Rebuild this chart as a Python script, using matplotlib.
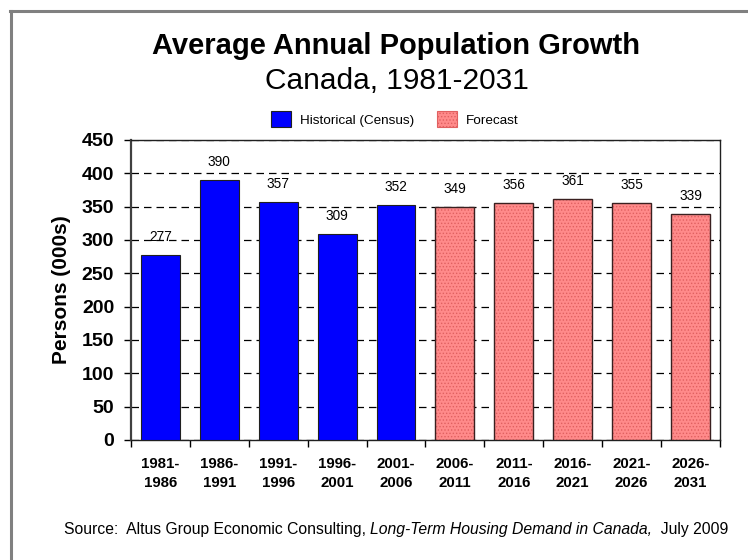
import numpy as np
import matplotlib.pyplot as plt
from matplotlib.lines import Line2D
from matplotlib.patches import Patch

plt.rcParams['font.family'] = ['Liberation Sans', 'DejaVu Sans']
plt.rcParams['hatch.linewidth'] = 0.6

periods = ['1981-\n1986', '1986-\n1991', '1991-\n1996', '1996-\n2001', '2001-\n2006',
           '2006-\n2011', '2011-\n2016', '2016-\n2021', '2021-\n2026', '2026-\n2031']
historical = [277, 390, 357, 309, 352]
forecast = [349, 356, 361, 355, 339]

fig = plt.figure(figsize=(7.48, 5.6), dpi=100)
ax = fig.add_axes([0.175, 0.2143, 0.7876, 0.5357])

n_hist = len(historical)
x_hist = np.arange(n_hist)
x_fore = np.arange(n_hist, n_hist + len(forecast))
w = 0.66

ax.bar(x_hist, historical, width=w, color='#0000ff', edgecolor='#202020',
       linewidth=0.8, zorder=3)
# forecast bars: dotted pink fill, then a dark outline on top
ax.bar(x_fore, forecast, width=w, color='#ff8a8a', edgecolor='#e06060',
       hatch='.....', linewidth=0, zorder=3)
ax.bar(x_fore, forecast, width=w, fill=False, edgecolor='#3a2020',
       linewidth=1.0, zorder=4)

for xi, v in zip(np.concatenate([x_hist, x_fore]), historical + forecast):
    ax.annotate(str(v), (xi, v), xytext=(0, 13), textcoords='offset points',
                ha='center', va='center', fontsize=9.8, zorder=5)

ax.set_xlim(-0.5, len(periods) - 0.5)
ax.set_ylim(0, 450)
ax.set_yticks(np.arange(0, 451, 50))
ax.tick_params(axis='y', labelsize=14, length=5, width=1, direction='out', pad=7)
for lbl in ax.get_yticklabels():
    lbl.set_fontweight('bold')

ax.set_xticks(np.arange(-0.5, len(periods), 1.0))
ax.set_xticklabels([])
ax.tick_params(axis='x', length=5, width=1, direction='out')
for i, p in enumerate(periods):
    ax.text(i, -25, p, ha='center', va='top', fontsize=10.8, fontweight='bold',
            linespacing=1.45, transform=ax.transData)

ax.yaxis.grid(True, color='black', linestyle=(0, (6, 4)), linewidth=0.9, zorder=0)
ax.set_axisbelow(True)
for s in ['top', 'right', 'bottom']:
    ax.spines[s].set_color('#202020')
    ax.spines[s].set_linewidth(1.0)
ax.spines['left'].set_color('#404040')
ax.spines['left'].set_linewidth(1.6)

ax.set_ylabel('Persons (000s)', fontsize=15, fontweight='bold', labelpad=8)

cx = 0.53
fig.text(cx, 0.918, 'Average Annual Population Growth', ha='center', va='center',
         fontsize=21, fontweight='bold')
fig.text(cx, 0.855, 'Canada, 1981-2031', ha='center', va='center', fontsize=21.5)

handles = [Patch(facecolor='#0000ff', edgecolor='#202020', linewidth=0.8),
           Patch(facecolor='#ff8a8a', edgecolor='#e06060', hatch='.....', linewidth=0.8)]
fig.legend(handles, ['Historical (Census)', 'Forecast'], loc='center',
           bbox_to_anchor=(0.528, 0.787), ncol=2, frameon=False, fontsize=9.7,
           handlelength=1.45, handleheight=1.45, columnspacing=1.7, handletextpad=0.67)

# source line with an italic report title in the middle
parts = [('Source:  Altus Group Economic Consulting, ', 'normal'),
         ('Long-Term Housing Demand in Canada,', 'italic'),
         ('  July 2009', 'normal')]
fig.canvas.draw()
r = fig.canvas.get_renderer()
texts = []
for s, st in parts:
    t = fig.text(0, 0.054, s, ha='left', va='center', fontsize=11.3, fontstyle=st)
    texts.append(t)
widths = [t.get_window_extent(r).width / fig.bbox.width for t in texts]
xs = cx - sum(widths) / 2
for t, wd in zip(texts, widths):
    t.set_x(xs)
    xs += wd

# grey frame along the top and left edges
fig.add_artist(Line2D([0.0147, 0.0147], [0, 0.98], color='#808080', linewidth=2.2,
                      transform=fig.transFigure))
fig.add_artist(Line2D([0.0133, 1.0], [0.98, 0.98], color='#808080', linewidth=2.2,
                      transform=fig.transFigure))

fig.savefig('out.png', dpi=100)
